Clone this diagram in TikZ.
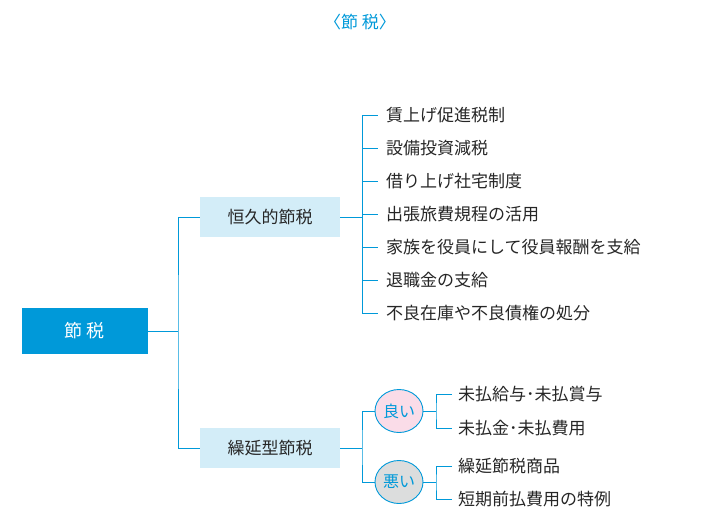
\documentclass[tikz,border=0pt]{standalone}
\usepackage{fontspec}
\setmainfont{Noto Sans CJK JP}
\usetikzlibrary{shapes.geometric}
\definecolor{mblue}{HTML}{0099D9}
\definecolor{lblue}{HTML}{D3EDF8}
\definecolor{pinkc}{HTML}{FADCE8}
\definecolor{grayc}{HTML}{DCDDDD}
\begin{document}
\begin{tikzpicture}[x=1pt,y=-1pt,
  ln/.style={mblue,line width=0.9pt},
  item/.style={anchor=west,font=\fontsize{17}{17}\selectfont,inner sep=0pt,text=black!85},
  box/.style={fill=lblue,minimum width=140pt,minimum height=40pt,font=\fontsize{17}{17}\selectfont,text=black!85},
  circ/.style={ellipse,draw=mblue,line width=0.9pt,minimum width=48pt,minimum height=43pt,inner sep=0pt,font=\fontsize{16}{16}\selectfont,text=mblue}]
\useasboundingbox (0,0) rectangle (710,520);
\node[text=mblue,font=\fontsize{17}{17}\selectfont] (title) at (360,22) {〈節 税〉};
\node[fill=mblue,text=white,minimum width=126pt,minimum height=46pt,font=\fontsize{18}{18}\selectfont] (root) at (85,331) {節 税};
\node[box] (b1) at (270,217) {恒久的節税};
\node[box] (b2) at (270,448) {繰延型節税};
\coordinate (j0) at (178,331);
\draw[ln] (root.east) -- (j0);
\draw[ln] (b1.west) -| (j0) |- (b2.west);
% items of b1
\coordinate (j1) at (362,217);
\draw[ln] (b1.east) -- (j1);
\foreach \t [count=\i from 0] in {賃上げ促進税制,設備投資減税,借り上げ社宅制度,出張旅費規程の活用,家族を役員にして役員報酬を支給,退職金の支給,不良在庫や不良債権の処分}{
  \node[item] (i\i) at (386,{115+33*\i}) {\t};
  \draw[ln] (j1 |- i\i) -- ++(16,0);
}
\draw[ln] (j1 |- i0) -- (j1 |- i6);
% b2
\coordinate (j2) at (362,448);
\draw[ln] (b2.east) -- (j2);
\node[circ,fill=pinkc] (g) at (399,411) {良い};
\node[circ,fill=grayc] (w) at (399,482) {悪い};
\draw[ln] (g.west) -| (j2) |- (w.west);
\coordinate (k1) at (436,411);
\coordinate (k2) at (436,482);
\draw[ln] (g.east) -- (k1);
\draw[ln] (w.east) -- (k2);
\node[item] (g1) at (458,394) {未払給与･未払賞与};
\node[item] (g2) at (458,428) {未払金･未払費用};
\node[item] (w1) at (458,466) {繰延節税商品};
\node[item] (w2) at (458,499) {短期前払費用の特例};
\draw[ln] (g1.west) ++(-6,0) -| (k1) |- ([xshift=-6pt]g2.west);
\draw[ln] (w1.west) ++(-6,0) -| (k2) |- ([xshift=-6pt]w2.west);
\end{tikzpicture}
\end{document}
